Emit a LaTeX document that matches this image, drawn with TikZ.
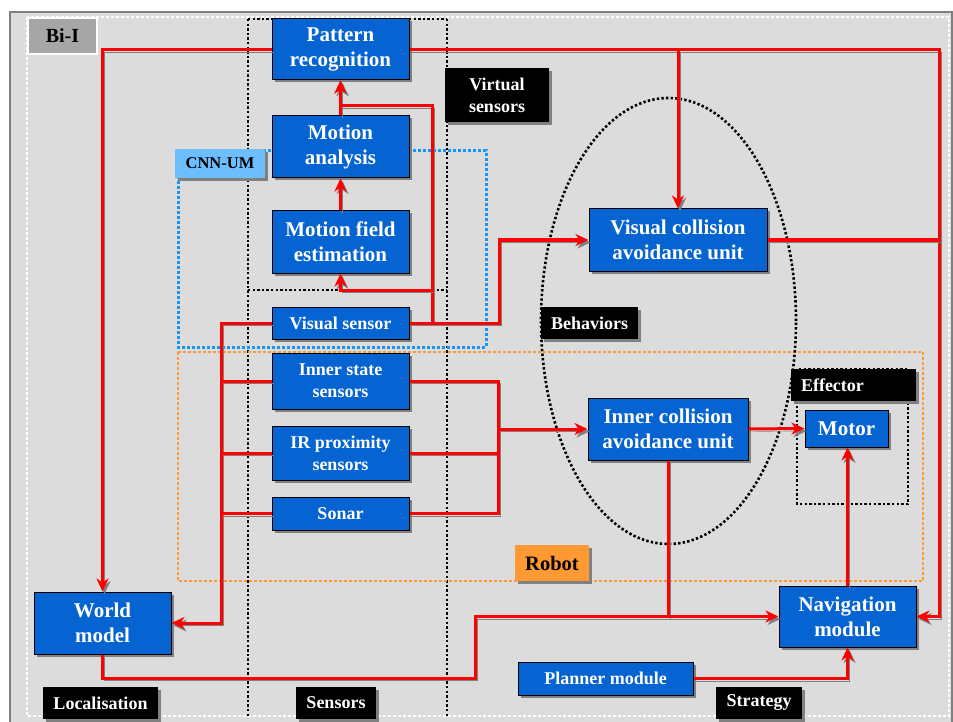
\documentclass[tikz,border=0pt]{standalone}
\usepackage{fontspec}
\setmainfont{Liberation Serif}
\usetikzlibrary{shadows,arrows.meta,calc}
\definecolor{nodeblue}{RGB}{5,100,210}
\definecolor{bggray}{RGB}{220,220,220}
\definecolor{edgegray}{RGB}{128,128,128}
\definecolor{bilabel}{RGB}{166,166,166}
\definecolor{cnnblue}{RGB}{108,190,255}
\definecolor{dotblue}{RGB}{20,150,255}
\definecolor{robotorange}{RGB}{255,153,51}
\tikzset{
  bnode/.style={draw=black, line width=1pt, fill=nodeblue, text=white,
    font=\bfseries\fontsize{21}{25}\selectfont, align=center, inner sep=0pt,
    drop shadow={shadow xshift=2.5pt, shadow yshift=-2.5pt, opacity=1, fill=edgegray}},
  snode/.style={bnode, font=\bfseries\fontsize{18}{22}\selectfont},
  lbl/.style={fill=black, text=white, font=\bfseries\fontsize{18}{22}\selectfont,
    align=center, inner sep=0pt,
    drop shadow={shadow xshift=3pt, shadow yshift=-3pt, opacity=1, fill=edgegray}},
  conn/.style={draw=red, line width=3pt, line join=miter,
    -{Stealth[length=13pt, width=12pt, inset=4pt]},
    preaction={draw=edgegray, transform canvas={shift={(2pt,-2.5pt)}}}},
  plain/.style={conn, -},
  blackdot/.style={draw=black, line width=2.6pt, dash pattern=on 2.4pt off 2.2pt},
  bluedot/.style={draw=dotblue, line width=3pt, dash pattern=on 3pt off 2pt},
  orangedot/.style={draw=robotorange, line width=2.8pt, dash pattern=on 3pt off 2pt},
  whitedot/.style={draw=white, line width=2.5pt, dash pattern=on 3pt off 2pt},
}
\begin{document}
\begin{tikzpicture}[x=1pt,y=-1pt]
\useasboundingbox (0,0) rectangle (953,722);
\fill[white] (0,0) rectangle (953,722);
\draw[fill=bggray, draw=edgegray, line width=2pt] (10,12) rectangle (952,730);
\draw[whitedot] (27,17) rectangle (949,716);

% columns and regions
\draw[blackdot] (248,19) -- (248,716);
\draw[blackdot] (447,19) -- (447,716);
\draw[blackdot] (248,19) -- (447,19);
\draw[blackdot] (248,290) -- (447,290);
\draw[bluedot] (178,151) rectangle (486,347);
\draw[orangedot] (178,352) rectangle (923,581);
\draw[blackdot] (668.5,321) ellipse [x radius=127.5pt, y radius=223pt];
\draw[blackdot] (797,369) rectangle (908,504);

% labels
\node[draw=white, line width=2pt, fill=bilabel, font=\bfseries\fontsize{20}{24}\selectfont,
  minimum width=69, minimum height=36, inner sep=0pt] (bii) at (62.5,36) {Bi-I};
\node[lbl, minimum width=104, minimum height=54] (virt) at (497,95) {Virtual\\sensors};
\node[lbl, minimum width=97, minimum height=32] (beh) at (589.5,323) {Behaviors};
\node[lbl, text width=105, inner xsep=10pt, align=left, minimum height=32] (eff) at (853.5,385) {Effector};
\node[lbl, minimum width=115, minimum height=32] (loc) at (100.5,703) {Localisation};
\node[lbl, minimum width=80, minimum height=32] (sens) at (336,703) {Sensors};
\node[lbl, minimum width=86, minimum height=32] (strat) at (759,703) {Strategy};
\node[lbl, fill=cnnblue, text=black, font=\bfseries\fontsize{16.5}{20}\selectfont,
  minimum width=90, minimum height=29] (cnn) at (220,163.5) {CNN-UM};
\node[lbl, fill=robotorange, text=black, font=\bfseries\fontsize{20.5}{24}\selectfont,
  minimum width=74, minimum height=36] (robot) at (552,563) {Robot};

% nodes
\node[bnode, minimum width=137, minimum height=61] (pat) at (340.5,49.5) {Pattern\\recognition};
\node[bnode, minimum width=137, minimum height=62] (ma) at (340.5,147) {Motion\\analysis};
\node[bnode, minimum width=137, minimum height=62] (mf) at (340.5,242) {Motion field\\estimation};
\node[snode, minimum width=137, minimum height=32] (vs) at (340.5,323) {Visual sensor};
\node[snode, minimum width=137, minimum height=56] (iss) at (340.5,381) {Inner state\\sensors};
\node[snode, minimum width=137, minimum height=54] (ir) at (340.5,453) {IR proximity\\sensors};
\node[snode, minimum width=137, minimum height=33] (sonar) at (340.5,513.5) {Sonar};
\node[bnode, minimum width=137, minimum height=62] (wm) at (102.5,623) {World\\model};
\node[bnode, minimum width=178, minimum height=62] (vca) at (678,240) {Visual collision\\avoidance unit};
\node[bnode, minimum width=160, minimum height=62] (ica) at (668,429) {Inner collision\\avoidance unit};
\node[bnode, minimum width=83, minimum height=37] (motor) at (846.5,428.5) {Motor};
\node[bnode, minimum width=137, minimum height=61] (nav) at (847.5,616.5) {Navigation\\module};
\node[snode, minimum width=175, minimum height=33] (plan) at (605.5,678.5) {Planner module};

% bend coordinates
\coordinate (rt) at (939,616.5);
\coordinate (b1) at (432,106);
\coordinate (b2) at (432,290);
\coordinate (b3) at (499,323);
\coordinate (b4) at (221,623);
\coordinate (b5) at (498,429);
\coordinate (b7) at (475,678);

% connectors
\draw[conn] (pat.west) -| (wm.north);
\draw[conn] (pat.east) -| (rt) -- (nav.east);
\draw[conn] (vca.north |- pat.east) -- (vca.north);
\draw[plain] (vca.east) -- (vca.east -| rt);
\draw[conn] (ma.north) -- (pat.south);
\draw[conn] (mf.north) -- (ma.south);
\draw[conn] (vs.east) -| (b1) -| (pat.south);
\draw[conn] (b2) -| (mf.south);
\draw[conn] (vs.east) -- (b3) |- (vca.west);
\draw[conn] (vs.west) -| (b4) -- (wm.east);
\draw[plain] (iss.west) -- (iss.west -| b4);
\draw[plain] (ir.west) -- (ir.west -| b4);
\draw[plain] (sonar.west) -- (sonar.west -| b4);
\draw[plain] (iss.east) -| (b5);
\draw[plain] (ir.east) -| (b5);
\draw[plain] (sonar.east) -| (b5);
\draw[conn] (b5) -- (ica.west);
\draw[conn] (ica.east) -- (motor.west);
\draw[plain] (ica.south) -- (ica.south |- nav.west);
\draw[conn] (wm.south) |- (b7) |- (nav.west);
\draw[conn] (nav.north) -- (nav.north |- motor.south);
\draw[conn] (plan.east) -| (nav.south);
\end{tikzpicture}
\end{document}
